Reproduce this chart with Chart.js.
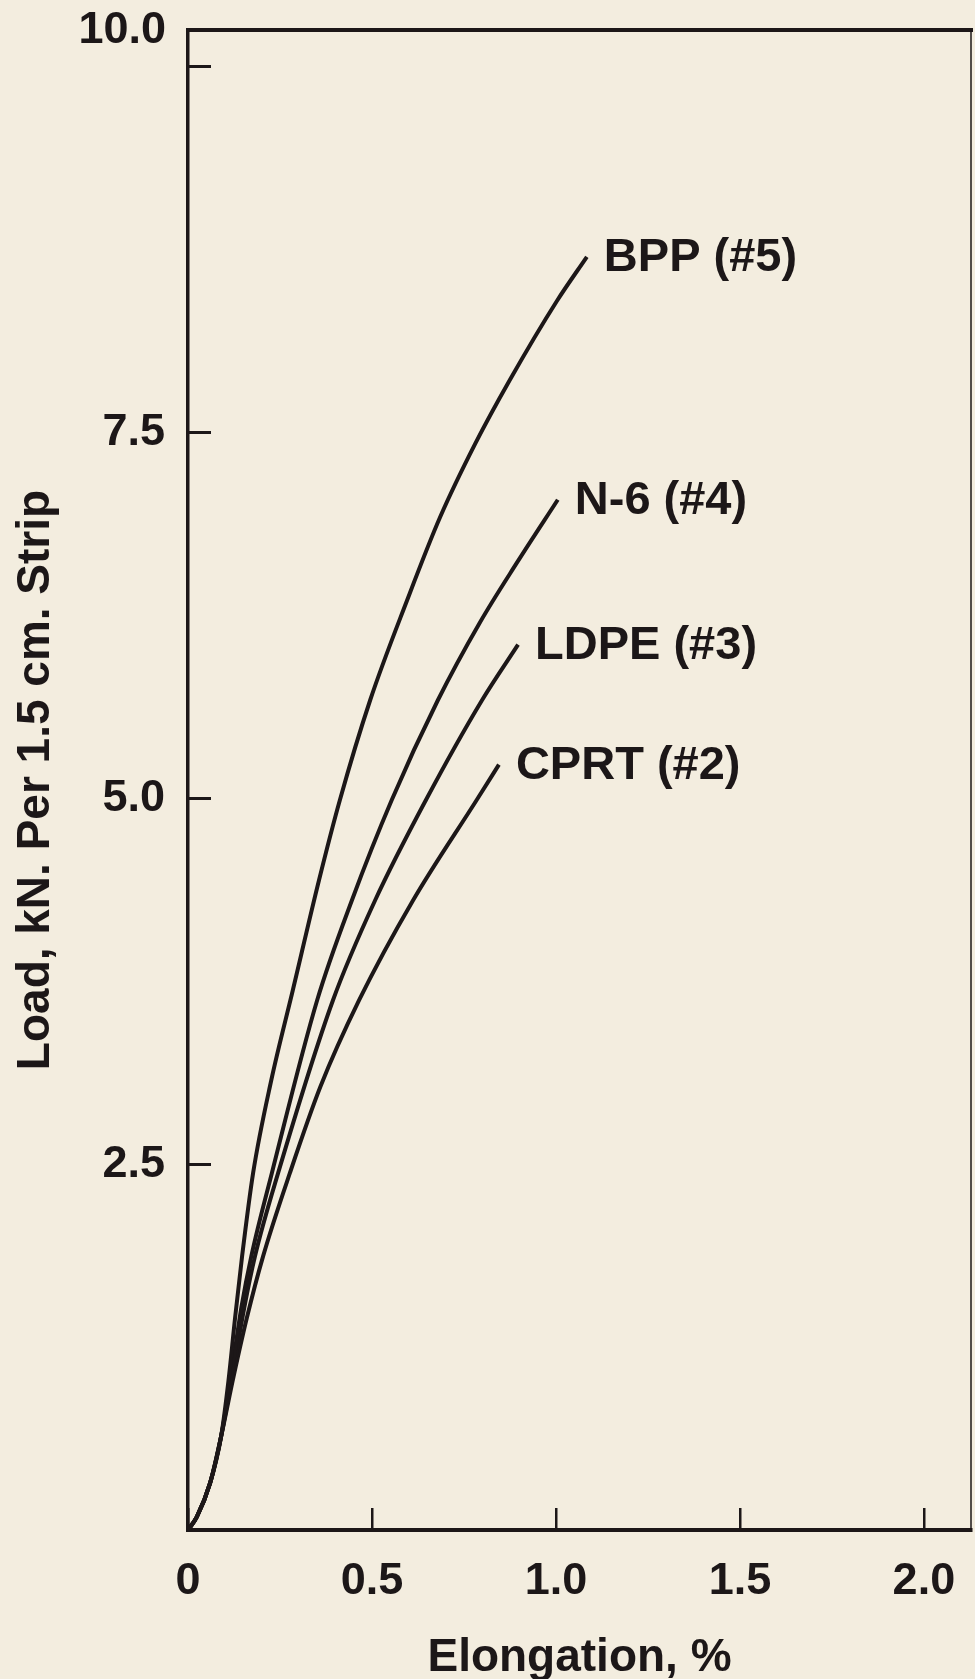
<!DOCTYPE html>
<html><head><meta charset="utf-8">
<script src="https://cdn.jsdelivr.net/npm/chart.js@4.4.1/dist/chart.umd.min.js"></script>
<style>
html,body{margin:0;padding:0;background:#f3eddf;}
#wrap{width:975px;height:1679px;position:relative;}
</style>
</head><body><div id="wrap"><canvas id="c"></canvas></div>
<script>
// ---- data ----
const seriesNames = ['BPP (#5)', 'N-6 (#4)', 'LDPE (#3)', 'CPRT (#2)'];

const bppX = [0, 0.024, 0.06, 0.09, 0.11, 0.128, 0.147, 0.177, 0.226, 0.285, 0.356, 0.413, 0.495, 0.595, 0.685, 0.78, 0.875, 1.003, 1.084];
const bppY = [0, 0.09, 0.32, 0.64, 1.02, 1.45, 1.87, 2.44, 3.07, 3.69, 4.44, 4.99, 5.67, 6.35, 6.92, 7.42, 7.86, 8.40, 8.70];

const n6X = [0, 0.024, 0.06, 0.09, 0.117, 0.145, 0.172, 0.228, 0.351, 0.445, 0.554, 0.679, 0.793, 0.894, 1.005];
const n6Y = [0, 0.09, 0.32, 0.64, 1.05, 1.52, 1.87, 2.44, 3.62, 4.30, 4.99, 5.67, 6.20, 6.61, 7.04];

const ldpeX = [0, 0.024, 0.06, 0.09, 0.12, 0.153, 0.182, 0.245, 0.394, 0.508, 0.647, 0.799, 0.897];
const ldpeY = [0, 0.09, 0.32, 0.64, 1.05, 1.52, 1.87, 2.44, 3.62, 4.30, 4.99, 5.67, 6.05];

const cprtX = [0, 0.024, 0.06, 0.09, 0.124, 0.16, 0.204, 0.277, 0.36, 0.465, 0.611, 0.785, 0.845];
const cprtY = [0, 0.09, 0.32, 0.64, 1.05, 1.45, 1.87, 2.44, 3.03, 3.62, 4.30, 4.99, 5.23];

const xTicks = [0, 0.5, 1.0, 1.5, 2.0];
const xTickLabels = ['0', '0.5', '1.0', '1.5', '2.0'];
const yTicks = [0, 2.5, 5.0, 7.5, 10.0];
const yTickLabels = ['', '2.5', '5.0', '7.5', '10.0'];

const xTitle = 'Elongation, %';
const yTitle = 'Load, kN. Per 1.5 cm. Strip';

// ---- styling ----
const INK = '#1c1718';
const FONT = "'Liberation Sans', Arial, Helvetica, sans-serif";

function pts(xs, ys) { return xs.map((x, i) => ({x: x, y: ys[i]})); }
const seriesData = [pts(bppX, bppY), pts(n6X, n6Y), pts(ldpeX, ldpeY), pts(cprtX, cprtY)];

const datasets = seriesData.map((d, i) => ({
  label: seriesNames[i],
  data: d,
  borderColor: INK,
  borderWidth: 4,
  pointRadius: 0,
  fill: false,
  cubicInterpolationMode: 'monotone'
}));

function zeroPad(s) { s.paddingTop = 0; s.paddingBottom = 0; s.paddingLeft = 0; s.paddingRight = 0; }

const frameAndLabels = {
  id: 'frameAndLabels',
  afterDraw(chart) {
    const {ctx, chartArea, scales} = chart;
    ctx.save();
    ctx.strokeStyle = INK;
    ctx.lineCap = 'square';
    ctx.lineWidth = 4;
    ctx.beginPath();
    ctx.moveTo(chartArea.left, chartArea.top);
    ctx.lineTo(chartArea.right, chartArea.top);
    ctx.stroke();
    ctx.lineWidth = 1.5;
    ctx.beginPath();
    ctx.moveTo(chartArea.right, chartArea.top);
    ctx.lineTo(chartArea.right, chartArea.bottom);
    ctx.stroke();
    // top y label (set at the frame top, as in the original)
    ctx.fillStyle = INK;
    ctx.font = 'bold 45px ' + FONT;
    ctx.textAlign = 'right';
    ctx.textBaseline = 'middle';
    ctx.fillText(yTickLabels[yTickLabels.length - 1], chartArea.left - 22, chartArea.top + 1);
    // series end labels
    ctx.font = 'bold 47px ' + FONT;
    ctx.textAlign = 'left';
    chart.data.datasets.forEach((ds) => {
      const last = ds.data[ds.data.length - 1];
      const px = scales.x.getPixelForValue(last.x);
      const py = scales.y.getPixelForValue(last.y);
      ctx.fillText(ds.label, px + 17, py + 1);
    });
    ctx.restore();
  }
};

new Chart(document.getElementById('c'), {
  type: 'line',
  data: { datasets: datasets },
  options: {
    responsive: true,
    maintainAspectRatio: false,
    animation: false,
    layout: { padding: { top: 30, right: 4, left: 0, bottom: 0 } },
    plugins: { legend: { display: false }, tooltip: { enabled: false } },
    scales: {
      x: {
        type: 'linear',
        min: 0,
        max: 2.128,
        afterBuildTicks: s => { s.ticks = xTicks.map(v => ({value: v})); },
        afterFit: s => { s.height = 149; zeroPad(s); },
        border: { display: true, color: INK, width: 4 },
        grid: { drawOnChartArea: false, drawTicks: true, tickLength: -22, color: INK, lineWidth: 2.5 },
        ticks: {
          autoSkip: false,
          maxRotation: 0,
          padding: 47,
          color: INK,
          font: { family: FONT, size: 45, weight: 'bold' },
          callback: (v, i) => xTickLabels[i]
        },
        title: {
          display: true,
          text: xTitle,
          color: INK,
          font: { family: FONT, size: 46, weight: 'bold', lineHeight: 0.85 },
          padding: { top: 0, bottom: 1 }
        }
      },
      y: {
        type: 'linear',
        min: 0,
        max: 10.25,
        afterBuildTicks: s => { s.ticks = yTicks.map(v => ({value: v})); },
        afterFit: s => { s.width = 188; zeroPad(s); },
        border: { display: true, color: INK, width: 3.5 },
        grid: { drawOnChartArea: false, drawTicks: true, tickLength: -23, color: INK, lineWidth: 3 },
        ticks: {
          autoSkip: false,
          padding: 46,
          color: INK,
          font: { family: FONT, size: 45, weight: 'bold' },
          callback: (v, i) => (i === yTickLabels.length - 1 ? '' : yTickLabels[i])
        },
        title: {
          display: true,
          text: yTitle,
          color: INK,
          font: { family: FONT, size: 46, weight: 'bold', lineHeight: 1.2 },
          padding: { top: 9, bottom: 0 }
        }
      }
    }
  },
  plugins: [frameAndLabels]
});
</script>
</body></html>
